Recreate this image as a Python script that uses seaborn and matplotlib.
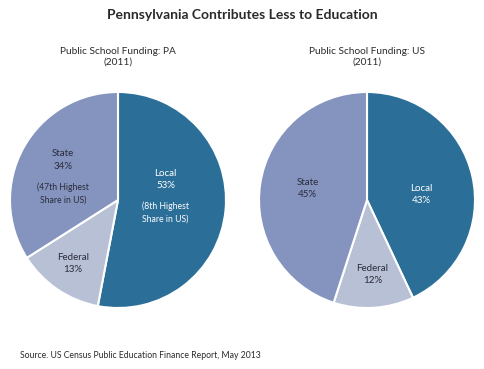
import numpy as np
import pandas as pd
import matplotlib
matplotlib.use("Agg")
import matplotlib.pyplot as plt
import seaborn as sns

# funding shares (%), order: Local, Federal, State (clockwise from top)
sources = ["Local", "Federal", "State"]
pa_share = [53, 13, 34]
us_share = [43, 12, 45]
pa_notes = {"Local": "(8th Highest\nShare in US)", "State": "(47th Highest\nShare in US)"}

sns.set_theme(style="white")
plt.rcParams['font.family'] = ['Lato', 'DejaVu Sans']
colors = sns.color_palette(["#2b6f99", "#b7c0d4", "#8494bf"])
text_col = {"Local": "white", "Federal": "#2b2b3a", "State": "#2b2b3a"}

fig = plt.figure(figsize=(4.84, 3.69), dpi=100)
fig.patch.set_facecolor("white")

fig.text(0.5, 0.958, "Pennsylvania Contributes Less to Education", ha="center", va="center",
         fontsize=10, fontweight="bold", color="#2a2a2a")

W, H = 484, 369
R = 108


def draw_pie(cx, cy, values, title, label_pos, notes=None):
    ax = fig.add_axes([(cx - R) / W, (H - cy - R) / H, 2 * R / W, 2 * R / H])
    ax.pie(values, colors=colors, startangle=90, counterclock=False,
           wedgeprops=dict(edgecolor="white", linewidth=1.5))
    ax.set_xlim(-1, 1)
    ax.set_ylim(-1, 1)
    ax.set_aspect("equal")
    ax.axis("off")
    for name, v in zip(sources, values):
        x, y = label_pos[name]
        ax.text(x, y, f"{name}\n{v}%", ha="center", va="center", fontsize=7,
                color=text_col[name], linespacing=1.45)
        if notes and name in notes:
            ax.text(x, y - 0.31, notes[name], ha="center", va="center", fontsize=6.2,
                    color=text_col[name], linespacing=1.5)
    fig.text(cx / W, 1 - 57 / H, title, ha="center", va="center", fontsize=7.3,
             color="#2a2a2a", linespacing=1.3)


draw_pie(118, 200, pa_share, "Public School Funding: PA\n(2011)",
         {"Local": (0.44, 0.19), "Federal": (-0.42, -0.59), "State": (-0.51, 0.37)}, pa_notes)
draw_pie(367, 200, us_share, "Public School Funding: US\n(2011)",
         {"Local": (0.50, 0.05), "Federal": (0.05, -0.69), "State": (-0.55, 0.11)})

fig.text(20 / W, 1 - 355 / H, "Source. US Census Public Education Finance Report, May 2013",
         ha="left", va="center", fontsize=6.2, color="#2a2a2a")

fig.savefig("out.png", dpi=100, facecolor="white")
